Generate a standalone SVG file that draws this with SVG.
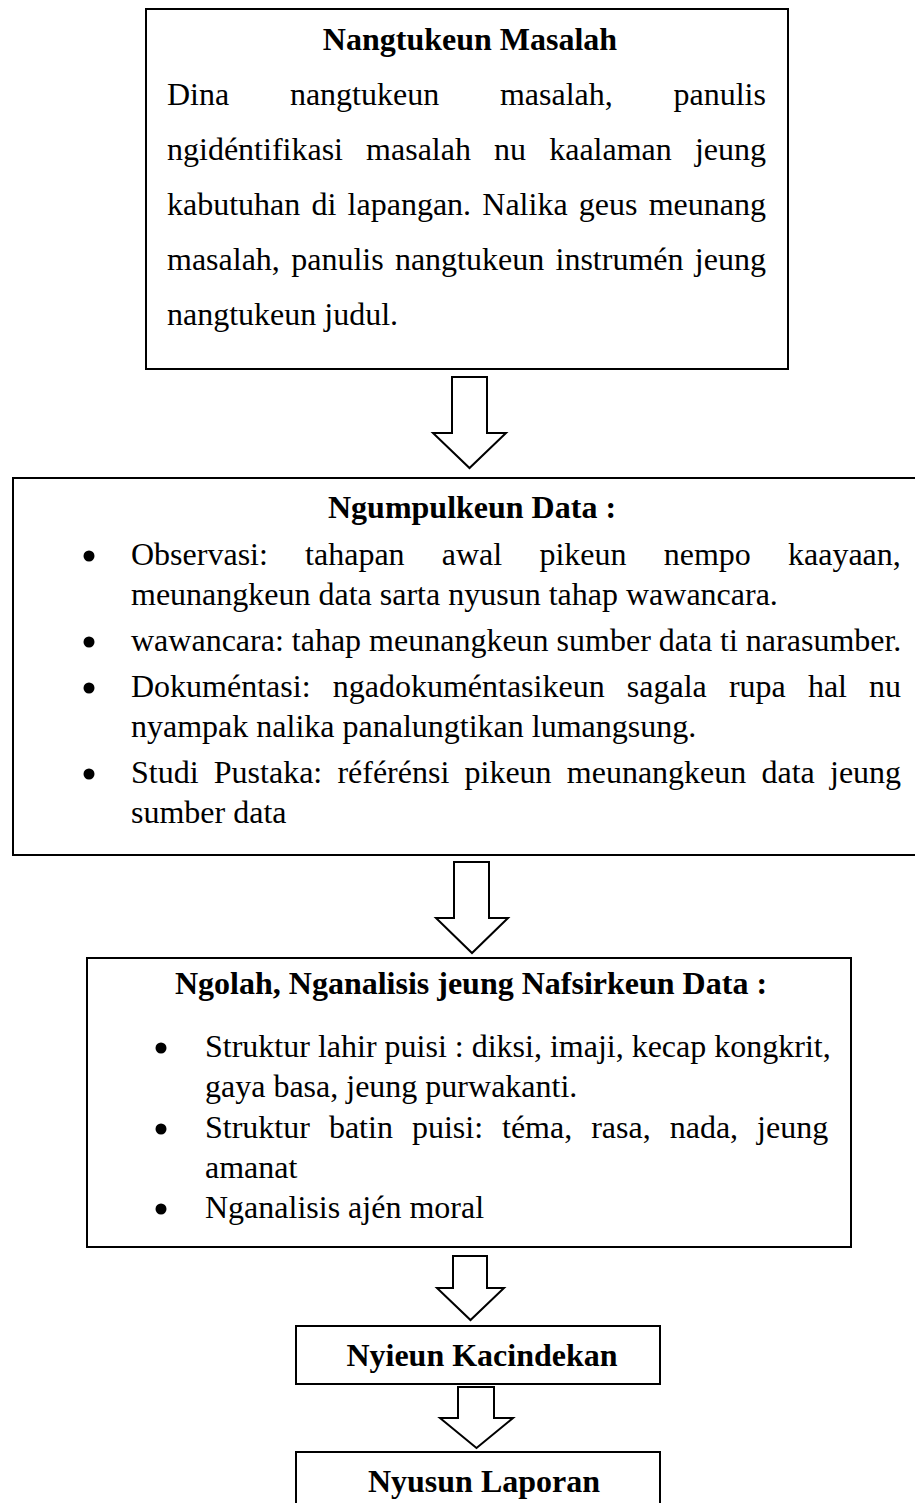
<svg xmlns="http://www.w3.org/2000/svg" width="915" height="1503" viewBox="0 0 915 1503">
<style>
.box{fill:#fff;stroke:#000;stroke-width:2}
.arrow{fill:#fff;stroke:#000;stroke-width:2;stroke-linejoin:miter}
.t{font-family:"Liberation Serif","Times New Roman",serif;font-size:32px;fill:#000}
.b{font-family:"Liberation Serif","Times New Roman",serif;font-size:32px;font-weight:bold;fill:#000;text-anchor:middle}
.dot{fill:#000}
</style>
<rect width="915" height="1503" fill="#fff"/>
<g id="connectors">
<polygon class="arrow" points="452,377 487,377 487,433 506,433 469.5,468 433,433 452,433"/>
<polygon class="arrow" points="454,862 489,862 489,918 508,918 472,953 436,918 454,918"/>
<polygon class="arrow" points="453,1256 487,1256 487,1288 504,1288 470.5,1320 437,1288 453,1288"/>
<polygon class="arrow" points="458,1387 494,1387 494,1418 513,1418 476.5,1448 440,1418 458,1418"/>
</g>
<g id="node-nangtukeun">
<rect class="box" x="146" y="9" width="642" height="360"/>
<text class="b" x="470" y="50">Nangtukeun Masalah</text>
<text class="t" y="105"><tspan x="167">Dina</tspan><tspan x="289.9">nangtukeun</tspan><tspan x="499.9">masalah,</tspan><tspan x="673.5">panulis</tspan></text>
<text class="t" y="160"><tspan x="167">ngidéntifikasi</tspan><tspan x="366.1">masalah</tspan><tspan x="494.1">nu</tspan><tspan x="549.2">kaalaman</tspan><tspan x="694.9">jeung</tspan></text>
<text class="t" y="215"><tspan x="167">kabutuhan</tspan><tspan x="311.5">di</tspan><tspan x="347.6">lapangan.</tspan><tspan x="482.3">Nalika</tspan><tspan x="578.8">geus</tspan><tspan x="648.7">meunang</tspan></text>
<text class="t" y="270"><tspan x="167">masalah,</tspan><tspan x="291.2">panulis</tspan><tspan x="394.9">nangtukeun</tspan><tspan x="555.5">instrumén</tspan><tspan x="694.8">jeung</tspan></text>
<text class="t" x="167" y="325">nangtukeun judul.</text>
</g>
<g id="node-ngumpulkeun">
<rect class="box" x="13" y="478" width="920" height="377"/>
<text class="b" x="472" y="518">Ngumpulkeun Data :</text>
<circle class="dot" cx="89" cy="556" r="5.5"/>
<circle class="dot" cx="89" cy="642" r="5.5"/>
<circle class="dot" cx="89" cy="688" r="5.5"/>
<circle class="dot" cx="89" cy="774" r="5.5"/>
<text class="t" y="565"><tspan x="131">Observasi:</tspan><tspan x="305.1">tahapan</tspan><tspan x="441.8">awal</tspan><tspan x="539.4">pikeun</tspan><tspan x="663.7">nempo</tspan><tspan x="788">kaayaan,</tspan></text>
<text class="t" x="131" y="605">meunangkeun data sarta nyusun tahap wawancara.</text>
<text class="t" x="131" y="651">wawancara: tahap meunangkeun sumber data ti narasumber.</text>
<text class="t" y="697"><tspan x="131">Dokuméntasi:</tspan><tspan x="332.7">ngadokuméntasikeun</tspan><tspan x="626.8">sagala</tspan><tspan x="728.9">rupa</tspan><tspan x="807.9">hal</tspan><tspan x="869.1">nu</tspan></text>
<text class="t" x="131" y="737">nyampak nalika panalungtikan lumangsung.</text>
<text class="t" y="783"><tspan x="131">Studi</tspan><tspan x="213.8">Pustaka:</tspan><tspan x="337.4">référénsi</tspan><tspan x="464.5">pikeun</tspan><tspan x="566.8">meunangkeun</tspan><tspan x="761.5">data</tspan><tspan x="830">jeung</tspan></text>
<text class="t" x="131" y="823">sumber data</text>
</g>
<g id="node-ngolah">
<rect class="box" x="87" y="958" width="764" height="289"/>
<text class="b" x="471" y="994">Ngolah, Nganalisis jeung Nafsirkeun Data :</text>
<circle class="dot" cx="161" cy="1048" r="5.5"/>
<circle class="dot" cx="161" cy="1129" r="5.5"/>
<circle class="dot" cx="161" cy="1209" r="5.5"/>
<text class="t" x="205" y="1057">Struktur lahir puisi : diksi, imaji, kecap kongkrit,</text>
<text class="t" x="205" y="1097">gaya basa, jeung purwakanti.</text>
<text class="t" y="1138"><tspan x="205">Struktur</tspan><tspan x="328.9">batin</tspan><tspan x="411.9">puisi:</tspan><tspan x="502">téma,</tspan><tspan x="591.2">rasa,</tspan><tspan x="669.7">nada,</tspan><tspan x="757.1">jeung</tspan></text>
<text class="t" x="205" y="1178">amanat</text>
<text class="t" x="205" y="1218">Nganalisis ajén moral</text>
</g>
<g id="node-kacindekan">
<rect class="box" x="296" y="1326" width="364" height="58"/>
<text class="b" x="482" y="1366">Nyieun Kacindekan</text>
</g>
<g id="node-laporan">
<rect class="box" x="296" y="1452" width="364" height="80"/>
<text class="b" x="484" y="1492">Nyusun Laporan</text>
</g>
</svg>
